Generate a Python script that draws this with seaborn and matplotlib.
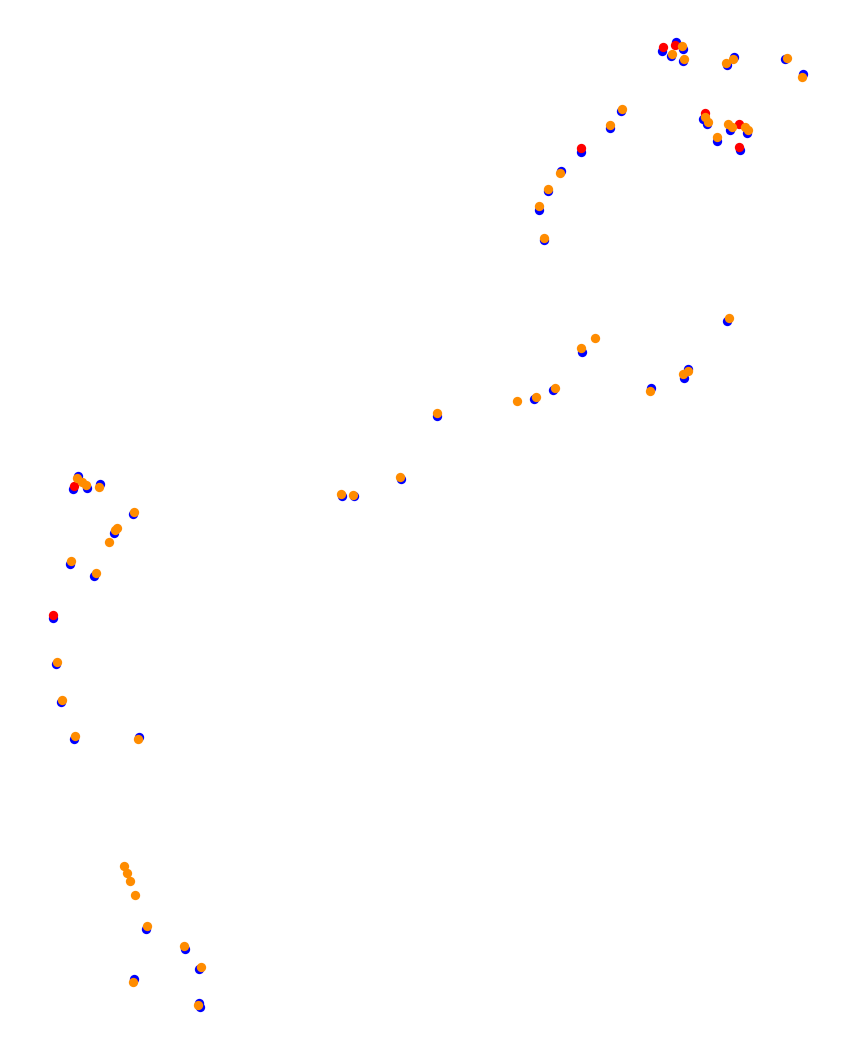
import matplotlib
matplotlib.use("Agg")
import matplotlib.pyplot as plt
import seaborn as sns

sns.set_theme(style="white")

# ── point positions (picture coordinates, y grows downward) ─────────
blue_x = [662, 676, 683, 671, 683, 727, 734, 785, 803, 703, 707, 717, 730, 747, 740,
          621, 610, 581, 561, 548, 539, 544, 727, 534, 553, 582, 651, 684, 688,
          437, 401, 342, 354, 78, 73, 87, 100, 133, 114, 70, 94, 53, 56, 61, 74, 139,
          146, 185, 199, 134, 199, 200]
blue_y = [51, 42, 49, 56, 61, 65, 57, 59, 74, 119, 124, 141, 130, 133, 150,
          111, 128, 152, 171, 191, 210, 240, 321, 399, 390, 352, 388, 378, 369,
          416, 479, 496, 496, 476, 489, 488, 484, 514, 533, 564, 576, 618, 664, 702, 739, 737,
          929, 949, 969, 979, 1003, 1007]

red_x = [663, 675, 705, 739, 739, 581, 74, 53]
red_y = [47, 45, 113, 124, 147, 148, 486, 615]

orange_x = [682, 672, 684, 726, 733, 787, 802, 705, 708, 717, 728, 732, 745, 748,
            622, 610, 560, 548, 539, 544, 517, 536, 555, 581, 595, 650, 683, 688, 729,
            437, 400, 341, 353, 77, 82, 86, 99, 134, 117, 115, 109, 71, 96,
            57, 62, 75, 138, 124, 127, 130, 135, 147, 184, 201, 133, 198]
orange_y = [46, 54, 59, 63, 59, 58, 77, 117, 122, 137, 124, 127, 127, 130,
            109, 125, 173, 189, 206, 238, 401, 397, 388, 348, 338, 391, 374, 371, 318,
            413, 477, 494, 495, 478, 482, 485, 487, 512, 528, 530, 542, 561, 573,
            662, 700, 736, 739, 866, 873, 881, 895, 926, 946, 967, 982, 1005]

fig = plt.figure(figsize=(8.46, 10.57), dpi=100)
ax = fig.add_axes([0, 0, 1, 1])

size = 45
sns.scatterplot(x=blue_x, y=blue_y, ax=ax, color="#0000ff", s=size, linewidth=0)
sns.scatterplot(x=red_x, y=red_y, ax=ax, color="#ff0000", s=size, linewidth=0)
sns.scatterplot(x=orange_x, y=orange_y, ax=ax, color="#ff8c00", s=size, linewidth=0)

ax.set_xlim(0, 846)
ax.set_ylim(1057, 0)
ax.axis("off")

fig.savefig("out.png", dpi=100, facecolor="white")
